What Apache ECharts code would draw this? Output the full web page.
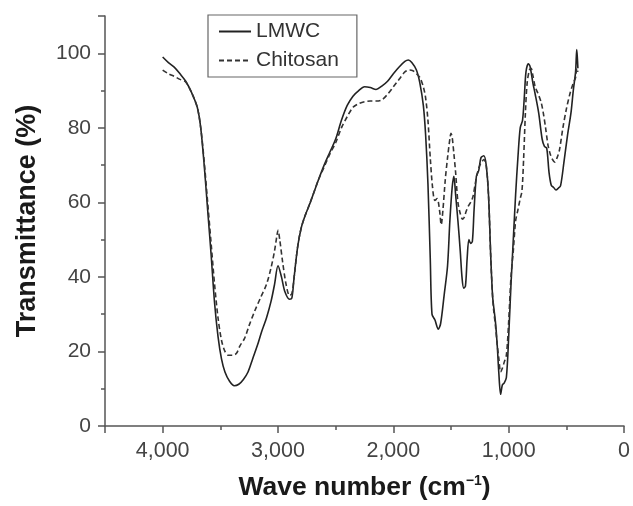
<!DOCTYPE html>
<html>
<head>
<meta charset="utf-8">
<script src="https://cdn.jsdelivr.net/npm/echarts@6/dist/echarts.min.js"></script>
<style>
html,body{margin:0;padding:0;background:#fff;}
#c{width:633px;height:506px;}
</style>
</head>
<body>
<div id="c"></div>
<script>
// Wave numbers (cm-1) and transmittance (%)
const lmwcWn = [4000,3950,3900,3850,3800,3750,3700,3670,3640,3610,3580,3550,3520,3490,3460,3420,3380,3340,3300,3260,3220,3180,3140,3100,3060,3030,3000,2970,2940,2900,2880,2860,2830,2800,2770,2720,2650,2600,2550,2500,2450,2400,2350,2300,2250,2200,2150,2100,2050,2000,1950,1900,1870,1840,1800,1770,1740,1720,1700,1680,1665,1640,1610,1590,1560,1530,1510,1490,1475,1460,1440,1420,1405,1390,1375,1360,1345,1330,1315,1300,1280,1260,1240,1215,1195,1175,1155,1140,1130,1115,1100,1085,1070,1055,1040,1020,1000,980,960,940,920,900,880,865,850,830,815,790,770,740,710,690,670,650,630,610,590,570,550,520,490,460,440,420,410,405,400];
const lmwcT  = [99,97.5,96.3,94.5,92.5,89.5,85.5,80,70,58,46,33,24,18,14.5,12,10.8,11.2,12.5,14.5,18,21.5,25.5,29,33.5,38,43,40,36,34,34.3,40,48,53,56,60,66,70,73.5,77,82,86,88.5,90,91,90.8,90.3,91.2,92.5,94.5,96.3,97.8,98.2,97.5,95.5,92,86,78,65,45,30,28.5,26,27.5,35,43,55,64,67,62,55,47,40,37,37.5,45,50,49,49.5,58,67,68.5,72,72.5,70,62,45,35,32,28,22,14,8.5,11,11.5,13,24,38,50,62,72,80,82,88,95,97.2,96.5,92,89,84,77,75,74.5,68,64.5,64,63.3,63.8,64.5,71,78,84,90,95,101,99,96];

const chitoWn = [4000,3950,3900,3850,3800,3750,3700,3670,3640,3610,3580,3550,3520,3490,3460,3430,3390,3360,3330,3290,3250,3200,3150,3100,3060,3030,3010,3000,2985,2960,2930,2900,2880,2860,2830,2800,2770,2720,2650,2600,2550,2500,2450,2400,2350,2300,2250,2200,2150,2100,2050,2000,1950,1900,1860,1830,1800,1770,1740,1720,1700,1680,1660,1640,1620,1600,1585,1570,1550,1530,1510,1500,1490,1475,1460,1440,1420,1400,1385,1370,1350,1330,1310,1290,1270,1250,1230,1215,1195,1175,1155,1140,1130,1115,1100,1085,1070,1055,1040,1020,1000,980,960,940,920,900,885,870,855,840,820,805,790,770,750,720,700,680,660,640,620,600,580,560,530,500,470,440,420,410,400];
const chitoT  = [95.5,94.5,93.8,93,92.3,89.5,85.5,80,71,60,49,38,29,23,20,19,19,19.5,21.5,23.5,27,31,34.5,38,42.5,47,51,52.5,50,44,38,35,35.5,40,48,53,56,60,66,69.5,73,76,80,83,85.5,86.5,87,87.2,87.2,87.5,89,91,93,95,95.5,95.3,94.5,93.5,91,88,82,72,64,60.5,61,58,54,58,66,72,77,78.5,77.5,73,68,60,57,55.5,56,57.5,59,60,61.5,65,68,70,71,71.5,70,62,45,35,31,27,22,18,14.5,15.5,17,19,28,40,47,55,58,61,63,72,84,92,95.5,96,94,91,89.5,87,84,80,75.5,73,71.5,70.8,72,74,80,85,89,92,93.5,96,95];

const seriesNames = ['LMWC', 'Chitosan'];
const xTicks = [0, 1000, 2000, 3000, 4000];
const yTicks = [0, 20, 40, 60, 80, 100];

const FONT = '"Liberation Sans", Arial, sans-serif';
const pair = (xs, ys) => xs.map((x, i) => [x, ys[i]]);

const chart = echarts.init(document.getElementById('c'), null, {renderer: 'canvas'});
chart.setOption({
  animation: false,
  backgroundColor: '#ffffff',
  grid: {left: 105, right: 5, top: 16, bottom: 80, containLabel: false},
  legend: {
    orient: 'vertical',
    left: 208, top: 15,
    data: seriesNames,
    itemWidth: 32, itemHeight: 10, itemGap: 8,
    padding: [6, 18, 6, 10],
    borderColor: '#666', borderWidth: 1.2,
    itemStyle: {opacity: 0},
    textStyle: {fontFamily: FONT, fontSize: 21, color: '#333'}
  },
  xAxis: {
    type: 'value', inverse: true, min: 0, max: 4500, interval: 1000,
    splitLine: {show: false},
    axisLine: {onZero: false, lineStyle: {color: '#555', width: 1.5}},
    axisTick: {show: true, length: 7, lineStyle: {color: '#555', width: 1.5}},
    minorTick: {show: true, splitNumber: 2, length: 4, lineStyle: {color: '#555', width: 1.5}},
    axisLabel: {
      fontFamily: FONT, fontSize: 21.5, color: '#444', margin: 14,
      formatter: v => xTicks.indexOf(v) >= 0 ? v.toLocaleString('en-US') : ''
    },
    name: '{a|Wave number (cm}{s|\u22121}{a|)}',
    nameLocation: 'middle', nameGap: 48,
    nameTextStyle: {
      rich: {
        a: {fontFamily: FONT, fontSize: 26.5, fontWeight: 'bold', color: '#1a1a1a'},
        s: {fontFamily: FONT, fontSize: 14, fontWeight: 'bold', color: '#1a1a1a', verticalAlign: 'top', padding: [0, 0, 10, 0]}
      }
    }
  },
  yAxis: {
    type: 'value', min: 0, max: 110, interval: 20,
    splitLine: {show: false},
    axisLine: {onZero: false, lineStyle: {color: '#555', width: 1.5}},
    axisTick: {show: true, length: 7, lineStyle: {color: '#555', width: 1.5}},
    minorTick: {show: true, splitNumber: 2, length: 4, lineStyle: {color: '#555', width: 1.5}},
    axisLabel: {
      fontFamily: FONT, fontSize: 21, color: '#444', margin: 14,
      formatter: v => yTicks.indexOf(v) >= 0 ? String(v) : ''
    },
    name: 'Transmittance (%)',
    nameLocation: 'middle', nameGap: 64,
    nameTextStyle: {fontFamily: FONT, fontSize: 27, fontWeight: 'bold', color: '#1a1a1a'}
  },
  series: [
    {
      name: seriesNames[0], type: 'line', data: pair(lmwcWn, lmwcT),
      symbol: 'none', smooth: 0.3,
      lineStyle: {color: '#222', width: 1.6, type: 'solid'},
      itemStyle: {color: '#222'}
    },
    {
      name: seriesNames[1], type: 'line', data: pair(chitoWn, chitoT),
      symbol: 'none', smooth: 0.3,
      lineStyle: {color: '#333', width: 1.6, type: [5, 3]},
      itemStyle: {color: '#333'}
    }
  ]
});
</script>
</body>
</html>
